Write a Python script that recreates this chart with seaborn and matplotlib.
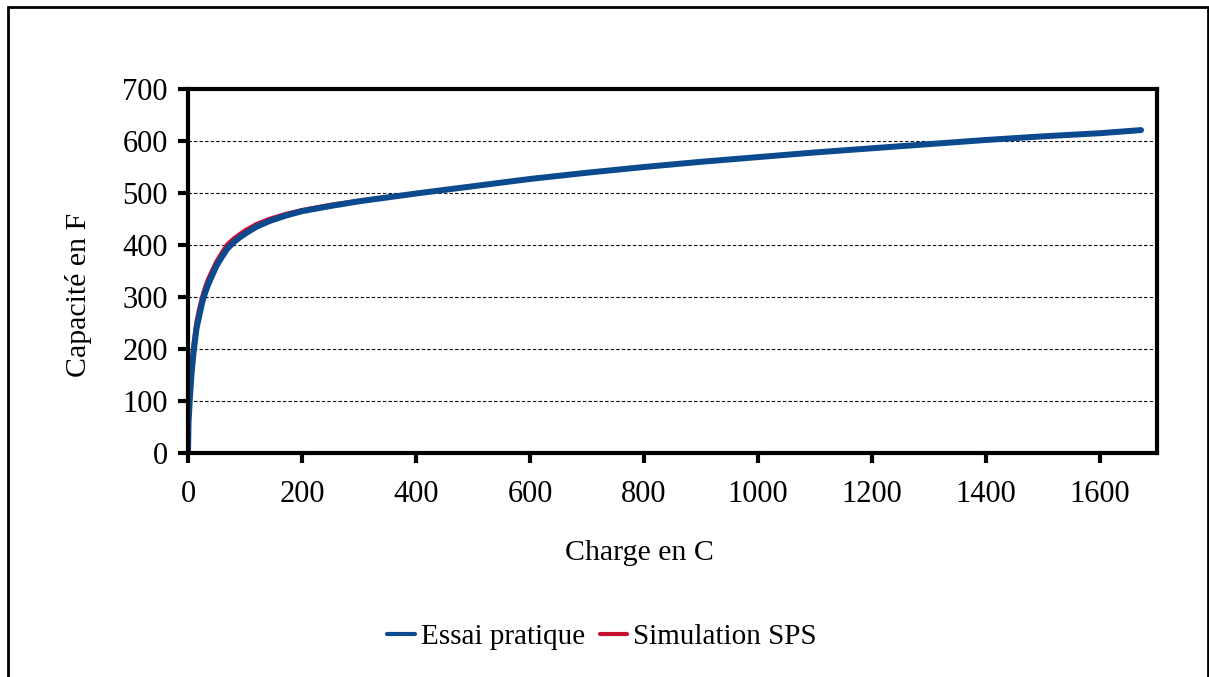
import pandas as pd
import matplotlib.pyplot as plt
import seaborn as sns
from matplotlib.patches import Rectangle

# =========================
# DONNÉES
# =========================

essai_charge = [0, 1, 3, 6, 10, 15, 20, 25, 30, 35, 43, 50, 60, 69, 80, 90, 102, 120, 143,
                170, 200, 250, 300, 400, 500, 600, 700, 800, 900, 1000, 1100, 1200, 1300,
                1400, 1500, 1600, 1672]
essai_cap = [0, 60, 100, 150, 196, 240, 265, 290, 308, 323, 343, 360, 378, 393, 405, 414,
             423, 435, 446, 456, 465, 475, 484, 499, 513, 527, 539, 550, 560, 569, 578,
             586, 594, 602, 609, 615, 621]

sim_charge = [0, 1, 3, 6, 10, 15, 20, 25, 30, 35, 43, 50, 60, 69, 80, 90, 102, 120, 143,
              170, 200, 250, 300, 400, 500, 600, 700, 800, 900, 1000, 1100, 1200, 1300,
              1400, 1500, 1600, 1665]
sim_cap = [0, 70, 115, 165, 210, 252, 278, 300, 318, 333, 352, 368, 386, 401, 412, 420,
           429, 440, 450, 459, 467, 477, 485, 499, 513, 527, 539, 550, 560, 569, 578,
           586, 594, 602, 609, 615, 620]

series_names = ['Essai pratique', 'Simulation SPS']
series_colors = ['#0b4a8e', '#c8102e']

y_ticks = [0, 100, 200, 300, 400, 500, 600, 700]
x_ticks = [0, 200, 400, 600, 800, 1000, 1200, 1400, 1600]

df = pd.concat([
    pd.DataFrame({'charge': essai_charge, 'cap': essai_cap, 'serie': series_names[0]}),
    pd.DataFrame({'charge': sim_charge, 'cap': sim_cap, 'serie': series_names[1]}),
])

# =========================
# WYKRES
# =========================

sns.set_style('white')
plt.rcParams['font.family'] = ['Liberation Serif', 'DejaVu Serif']
plt.rcParams['text.color'] = 'black'
plt.rcParams['axes.labelcolor'] = 'black'

fig = plt.figure(figsize=(12.09, 6.77), dpi=100)
ax = fig.add_axes([188 / 1209, 1 - 453 / 677, (1157 - 188) / 1209, (453 - 89) / 677])

# simulation en dessous, essai par-dessus
sns.lineplot(data=df[df['serie'] == series_names[1]], x='charge', y='cap',
             color=series_colors[1], lw=3.2, sort=False, ax=ax, legend=False)
sns.lineplot(data=df[df['serie'] == series_names[0]], x='charge', y='cap',
             color=series_colors[0], lw=4.3, sort=False, ax=ax, legend=False)

ax.set_xlim(0, 1700)
ax.set_ylim(0, 700)
ax.set_xticks(x_ticks)
ax.set_yticks(y_ticks)
ax.tick_params(axis='both', direction='out', length=7.5, width=3, labelsize=22,
               colors='black', left=True, bottom=True)
ax.tick_params(axis='x', pad=12)
ax.tick_params(axis='y', pad=7)
for s in ax.spines.values():
    s.set_color('black')
    s.set_linewidth(3)

for v in y_ticks[1:-1]:
    ax.axhline(v, color='black', lw=0.8, ls=(0, (3, 2)), zorder=0)

ax.set_xlabel('Charge en C', fontsize=21.5)
ax.set_ylabel('Capacité en F', fontsize=21.5)
ax.xaxis.set_label_coords(0.466, -0.239)
ax.yaxis.set_label_coords(-0.099, 0.434)

handles = [plt.Line2D([], [], color=c, lw=3) for c in series_colors]
fig.legend(handles, series_names, loc='center', bbox_to_anchor=(0.498, 1 - 637 / 677),
           ncol=2, frameon=False, fontsize=21, handlelength=0.95, handletextpad=0.2,
           columnspacing=0.5)

# cadre extérieur
fig.patches.append(Rectangle((8 / 1209, -0.05), 1200 / 1209, 1.05 - 7 / 677,
                             transform=fig.transFigure, fill=False, ec='black', lw=2))

fig.savefig('out.png', dpi=100)
